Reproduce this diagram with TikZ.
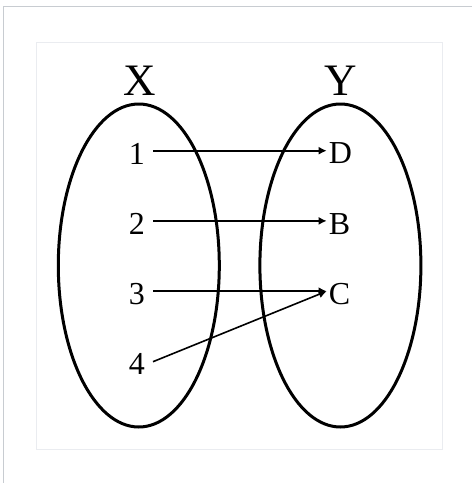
\documentclass[tikz,border=0pt]{standalone}
\usepackage{fontspec}
\setmainfont{Liberation Serif}
\usetikzlibrary{shapes.geometric,arrows.meta}
\definecolor{framegray}{HTML}{C8CCD1}
\definecolor{innergray}{HTML}{EAECF0}
\begin{document}
\begin{tikzpicture}[x=1pt,y=-1pt,
  setbox/.style={draw, ellipse, line width=3pt, minimum width=161pt, minimum height=323pt, inner sep=0pt},
  setname/.style={font=\fontsize{45}{45}\selectfont, inner sep=0pt},
  elem/.style={font=\fontsize{32}{32}\selectfont, inner ysep=0pt, inner xsep=8pt, anchor=east},
  img/.style={font=\fontsize{32}{32}\selectfont, inner ysep=0pt, inner xsep=2pt, anchor=west},
  maparrow/.style={line width=1.6pt, -{Latex[length=8pt,width=8pt]}}]
\useasboundingbox (0,0) rectangle (472,483);
\fill[white] (0,0) rectangle (472,483);
% outer frame
\draw[framegray, line width=1pt] (3.5,483) -- (3.5,6.5) -- (472,6.5);
% inner frame
\draw[innergray, line width=1.2pt] (36.7,42.3) rectangle (442.3,449.7);
% sets
\node[setbox] (ex) at (138.8,265.5) {};
\node[setbox] (ey) at (340.4,265.5) {};
\node[setname] (lx) at (139.5,81) {X};
\node[setname] (ly) at (340.5,81) {Y};
% elements
\node[elem] (n1) at (153,153.5) {1};
\node[elem] (n2) at (153,223.7) {2};
\node[elem] (n3) at (153,294) {3};
\node[elem] (n4) at (153,364) {4};
\node[img] (nd) at (326.7,153.5) {D};
\node[img] (nb) at (326.7,223.7) {B};
\node[img] (nc) at (326.7,294) {C};
% mapping
\draw[maparrow] ([yshift=2.8pt]n1.east) -- ([yshift=2.8pt]nd.west);
\draw[maparrow] ([yshift=2.8pt]n2.east) -- ([yshift=2.8pt]nb.west);
\draw[maparrow] ([yshift=2.8pt]n3.east) -- ([yshift=2.8pt]nc.west);
\draw[maparrow] ([yshift=2.3pt]n4.east) -- ([yshift=2.8pt]nc.west);
\end{tikzpicture}
\end{document}
